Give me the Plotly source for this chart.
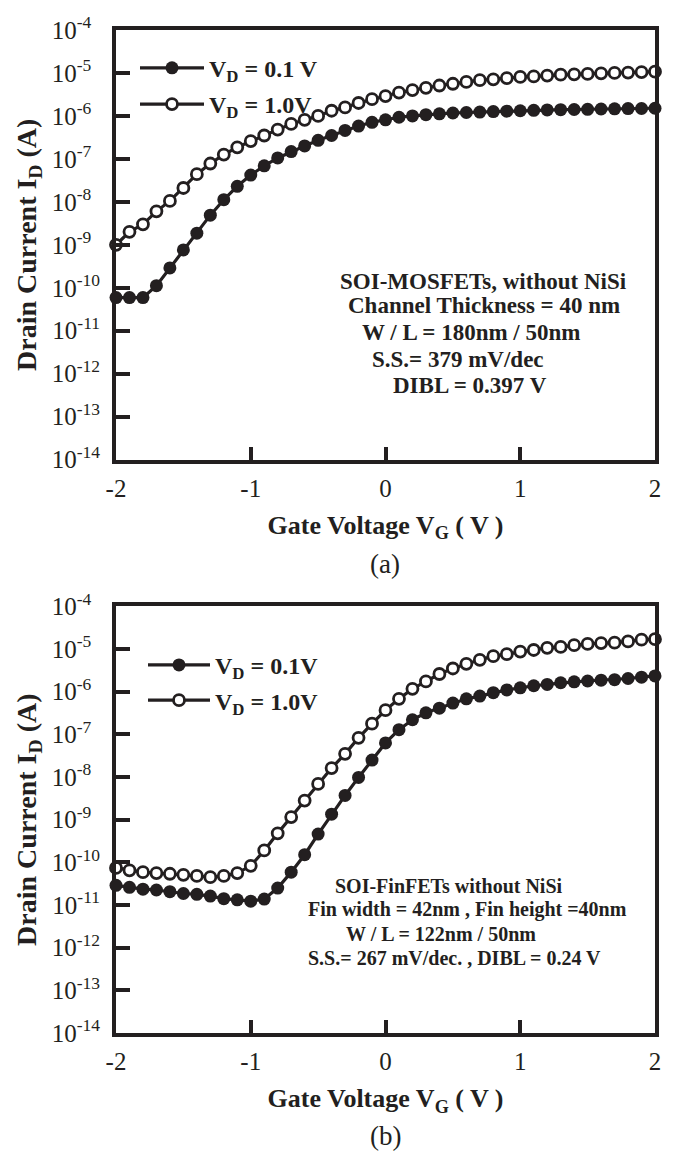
import plotly.graph_objects as go

# ---------------- data ----------------
vg = [-2.0, -1.9, -1.8, -1.7, -1.6, -1.5, -1.4, -1.3, -1.2, -1.1, -1.0,
      -0.9, -0.8, -0.7, -0.6, -0.5, -0.4, -0.3, -0.2, -0.1, 0.0,
      0.1, 0.2, 0.3, 0.4, 0.5, 0.6, 0.7, 0.8, 0.9, 1.0,
      1.1, 1.2, 1.3, 1.4, 1.5, 1.6, 1.7, 1.8, 1.9, 2.0]

# (a) SOI-MOSFETs
mos_vd01 = [5.9e-11, 5.9e-11, 5.9e-11, 1.12e-10, 2.9e-10, 7.6e-10, 1.86e-9, 4.9e-9, 1.12e-8, 2.3e-8, 4.2e-8,
            6.9e-8, 1.05e-7, 1.48e-7, 2.0e-7, 2.7e-7, 3.5e-7, 4.6e-7, 5.8e-7, 7.1e-7, 8.1e-7,
            9.3e-7, 1.0e-6, 1.07e-6, 1.12e-6, 1.17e-6, 1.2e-6, 1.23e-6, 1.26e-6, 1.29e-6, 1.32e-6,
            1.35e-6, 1.38e-6, 1.40e-6, 1.41e-6, 1.42e-6, 1.45e-6, 1.46e-6, 1.48e-6, 1.49e-6, 1.51e-6]
mos_vd10 = [1.0e-9, 2.0e-9, 3.0e-9, 6.0e-9, 1.05e-8, 2.1e-8, 4.4e-8, 7.8e-8, 1.26e-7, 1.86e-7, 2.6e-7,
            3.5e-7, 4.8e-7, 6.5e-7, 8.1e-7, 1.0e-6, 1.32e-6, 1.58e-6, 2.0e-6, 2.45e-6, 2.9e-6,
            3.5e-6, 4.0e-6, 4.5e-6, 5.1e-6, 5.6e-6, 6.2e-6, 6.8e-6, 7.1e-6, 7.6e-6, 8.1e-6,
            8.3e-6, 8.7e-6, 9.1e-6, 9.3e-6, 9.5e-6, 9.8e-6, 1.0e-5, 1.02e-5, 1.05e-5, 1.07e-5]

# (b) SOI-FinFETs
fin_vd01 = [2.9e-11, 2.6e-11, 2.35e-11, 2.25e-11, 2.05e-11, 1.86e-11, 1.78e-11, 1.62e-11, 1.41e-11, 1.32e-11, 1.23e-11,
            1.38e-11, 2.5e-11, 5.9e-11, 1.51e-10, 4.6e-10, 1.35e-9, 3.7e-9, 9.8e-9, 2.5e-8, 6.3e-8,
            1.29e-7, 2.2e-7, 3.2e-7, 4.1e-7, 5.4e-7, 6.8e-7, 7.9e-7, 9.5e-7, 1.10e-6, 1.23e-6,
            1.38e-6, 1.48e-6, 1.62e-6, 1.70e-6, 1.78e-6, 1.86e-6, 1.91e-6, 2.04e-6, 2.19e-6, 2.34e-6]
fin_vd10 = [7.4e-11, 6.5e-11, 5.9e-11, 5.6e-11, 5.4e-11, 5.1e-11, 4.8e-11, 4.5e-11, 4.8e-11, 5.6e-11, 8.3e-11,
            1.9e-10, 4.8e-10, 1.15e-9, 2.8e-9, 6.9e-9, 1.62e-8, 3.5e-8, 8.3e-8, 1.78e-7, 3.7e-7,
            6.8e-7, 1.17e-6, 1.74e-6, 2.6e-6, 3.5e-6, 4.5e-6, 5.6e-6, 6.8e-6, 7.6e-6, 8.7e-6,
            9.5e-6, 1.07e-5, 1.12e-5, 1.23e-5, 1.32e-5, 1.38e-5, 1.41e-5, 1.51e-5, 1.66e-5, 1.70e-5]

x_ticks = [-2, -1, 0, 1, 2]
x_tick_labels = ["-2", "-1", "0", "1", "2"]
y_ticks = [1e-14, 1e-13, 1e-12, 1e-11, 1e-10, 1e-9, 1e-8, 1e-7, 1e-6, 1e-5, 1e-4]
y_exponents = ["-14", "-13", "-12", "-11", "-10", "-9", "-8", "-7", "-6", "-5", "-4"]

legend_a = ["<b>V<sub>D</sub> = 0.1 V</b>", "<b>V<sub>D</sub> = 1.0V</b>"]
legend_b = ["<b>V<sub>D</sub> = 0.1V</b>", "<b>V<sub>D</sub> = 1.0V</b>"]

note_a = ["SOI-MOSFETs, without NiSi", "Channel Thickness = 40 nm", "W / L = 180nm / 50nm",
          "S.S.= 379 mV/dec", "DIBL = 0.397 V"]
note_b = ["SOI-FinFETs without NiSi", "Fin width = 42nm , Fin height =40nm",
          "W / L = 122nm / 50nm", "S.S.= 267 mV/dec. , DIBL = 0.24 V"]

# tick labels: short exponents padded so labels look left-aligned as in the reference
NBSP = "\u00a0"
y_tick_labels = ["10<sup>" + e + (NBSP * 2 if len(e) == 2 else "") + "</sup>" for e in y_exponents]

# ---------------- styling ----------------
INK = "#231f20"
SERIF = "Liberation Serif, Times New Roman, serif"
W, H = 674, 1158
ML, MR, MT, MB = 116, 19, 15, 125
plot_h = H - MT - MB
plot_w = W - ML - MR


def py(ypix):
    return (H - MB - ypix) / plot_h


def px(xpix):
    return (xpix - ML) / plot_w


fig = go.Figure()


def add_pair(y01, y10, names, xa, ya, leg):
    fig.add_trace(go.Scatter(
        x=vg, y=y01, name=names[0], mode="lines+markers", xaxis=xa, yaxis=ya, legend=leg,
        legendgroup=leg + "a", cliponaxis=False,
        line=dict(color=INK, width=3.2),
        marker=dict(symbol="circle", size=13, color=INK, line=dict(width=0))))
    fig.add_trace(go.Scatter(
        x=vg, y=y10, name=names[1], mode="lines+markers", xaxis=xa, yaxis=ya, legend=leg,
        legendgroup=leg + "b", cliponaxis=False,
        line=dict(color=INK, width=3.2),
        marker=dict(symbol="circle", size=11, color="white", line=dict(color=INK, width=2.8))))


add_pair(mos_vd01, mos_vd10, legend_a, "x", "y", "legend")
add_pair(fin_vd01, fin_vd10, legend_b, "x2", "y2", "legend2")

xcommon = dict(range=[-2, 2], tickvals=x_ticks, ticktext=x_tick_labels,
               showline=True, linewidth=4, linecolor=INK, mirror=True,
               ticks="inside", ticklen=13, tickwidth=4, tickcolor=INK,
               showgrid=False, zeroline=False, ticklabelstandoff=3,
               tickfont=dict(family=SERIF, size=25, color=INK),
               title=dict(text="<b>Gate Voltage V<sub>G</sub> ( V )</b>", standoff=16,
                          font=dict(family=SERIF, size=26, color=INK)))
ycommon = dict(type="log", range=[-14, -4], tickvals=y_ticks, ticktext=y_tick_labels,
               showline=True, linewidth=4, linecolor=INK, mirror=True,
               ticks="inside", ticklen=14, tickwidth=4, tickcolor=INK,
               showgrid=False, zeroline=False, ticklabelstandoff=7,
               tickfont=dict(family=SERIF, size=25, color=INK),
               title=dict(text="<b>Drain Current I<sub>D</sub> (A)</b>", standoff=8,
                          font=dict(family=SERIF, size=28, color=INK)))

top_dom = [py(451), 1.0]
bot_dom = [0.0, py(600)]

fig.update_layout(
    width=W, height=H,
    margin=dict(l=ML, r=MR, t=MT, b=MB),
    paper_bgcolor="white", plot_bgcolor="white",
    xaxis=dict(xcommon, domain=[0, 1], anchor="y"),
    yaxis=dict(ycommon, domain=top_dom, anchor="x"),
    xaxis2=dict(xcommon, domain=[0, 1], anchor="y2"),
    yaxis2=dict(ycommon, domain=bot_dom, anchor="x2"),
    legend=dict(x=px(135), y=py(31), xanchor="left", yanchor="top",
                bgcolor="rgba(0,0,0,0)", itemwidth=64, tracegroupgap=2,
                font=dict(family=SERIF, size=24, color=INK)),
    legend2=dict(x=px(143), y=py(637), xanchor="left", yanchor="top",
                 bgcolor="rgba(0,0,0,0)", itemwidth=62, tracegroupgap=1,
                 font=dict(family=SERIF, size=24, color=INK)),
    showlegend=True,
)

# annotation text blocks (left edges / centre heights in page pixels)
a_pos = [(338, 270), (346, 295), (360, 322), (370, 349), (391, 376)]
for txt, (lx, cy) in zip(note_a, a_pos):
    fig.add_annotation(text="<b>" + txt + "</b>", x=px(lx), y=py(cy), xref="paper", yref="paper",
                       xanchor="left", yanchor="middle", showarrow=False,
                       font=dict(family=SERIF, size=23, color=INK))

b_pos = [(333, 884), (306, 908), (344, 933), (306, 957)]
for txt, (lx, cy) in zip(note_b, b_pos):
    fig.add_annotation(text="<b>" + txt + "</b>", x=px(lx), y=py(cy), xref="paper", yref="paper",
                       xanchor="left", yanchor="middle", showarrow=False,
                       font=dict(family=SERIF, size=20, color=INK))

for lab, cy in [("(a)", 557), ("(b)", 1138)]:
    fig.add_annotation(text=lab, x=px(385), y=py(cy), xref="paper", yref="paper",
                       xanchor="center", yanchor="middle", showarrow=False,
                       font=dict(family=SERIF, size=27, color=INK))

fig.write_html("out.html", config={"displayModeBar": False},
               post_script="document.body.style.margin='0';document.body.style.overflow='hidden';")
